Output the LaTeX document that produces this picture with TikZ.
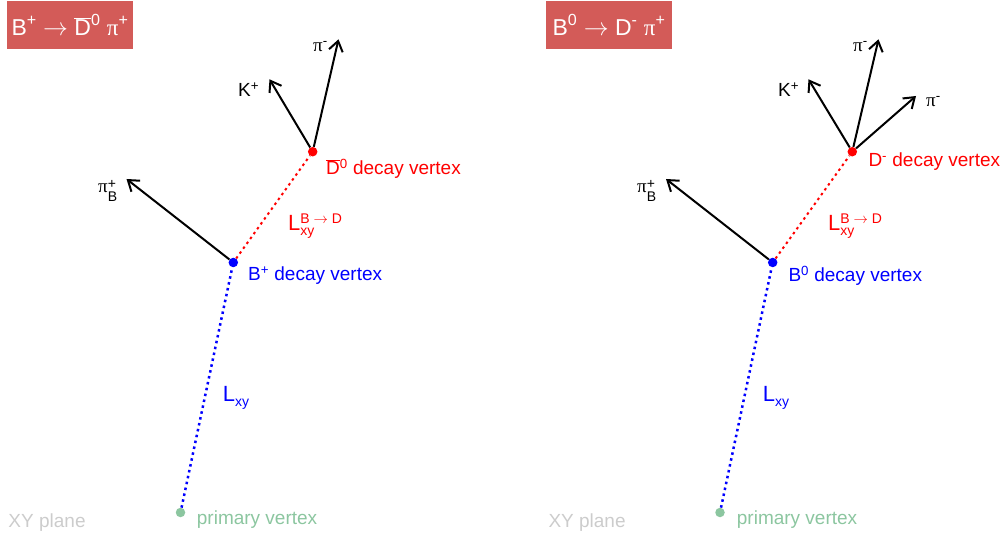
\documentclass[tikz,border=0pt]{standalone}
\usepackage{fontspec}
\setmainfont{Liberation Sans}
\newfontfamily\pifont{Liberation Serif}
\usetikzlibrary{arrows.meta}
\definecolor{titlered}{HTML}{D35B58}
\definecolor{pvgreen}{HTML}{8CC6A0}
\definecolor{planegray}{HTML}{CCCCCC}
\newcommand\pisym{{\pifont π}}
\newcommand\lbfont{\fontsize{19}{23}\selectfont}
\newcommand\Lfont{\fontsize{22}{26}\selectfont}
\newcommand\Lsmall{\fontsize{14}{16}\selectfont}
\newcommand\Dbar{$\overline{\hbox{D}}$}
\newcommand\piB{\pisym\rlap{\raisebox{4pt}{\Lsmall +}}\raisebox{-9pt}{\Lsmall B}}
\begin{document}
\begin{tikzpicture}[x=1pt,y=-1pt,
  vtx/.style={circle, inner sep=0pt, minimum size=9.5pt},
  trk/.style={draw=black, line width=2pt, -{Straight Barb[length=10pt,width=14pt]}},
  flight/.style={line width=2.5pt, dash pattern=on 2.5pt off 3.5pt},
  lbl/.style={anchor=base west, inner sep=0pt, font=\lbfont},
  titlebox/.style={fill=titlered, text=white, inner sep=0pt, minimum width=126pt, minimum height=48pt, font=\fontsize{23}{27}\selectfont}]
\useasboundingbox (0,0) rectangle (1005,537);

% ---------- left panel ----------
\node[titlebox] (t1) at (70,25) {B\textsuperscript{+} $\rightarrow$ \Dbar\textsuperscript{0} \pisym\textsuperscript{+}};
\node[vtx, fill=pvgreen] (pv1) at (180.5,512.5) {};
\node[vtx, fill=blue] (bv1) at (233.3,262.5) {};
\node[vtx, fill=red] (dv1) at (312.7,151.7) {};
\coordinate (pb1) at (126.5,179);
\coordinate (k1) at (269.5,79.3);
\coordinate (pm1) at (338.5,39.3);
\draw[flight, blue] (pv1) -- (bv1);
\draw[flight, red, line width=2pt] (bv1) -- (dv1);
\draw[trk] (bv1) -- (pb1);
\draw[trk] (dv1) -- (k1);
\draw[trk] (dv1) -- (pm1);
\node[lbl] (lpb1) at (98,193) {\piB};
\node[lbl] (lk1) at (238,97) {K\textsuperscript{+}};
\node[lbl] (lpm1) at (313,52) {\pisym\textsuperscript{-}};
\node[lbl, text=red] (ld1) at (326,175) {\Dbar\textsuperscript{0} decay vertex};
\node[lbl, text=blue] (lb1) at (248,281) {B\textsuperscript{+} decay vertex};
\node[lbl, text=red, font=\Lfont] (lbd1) at (288,231) {L\rlap{\Lsmall\raisebox{-0.35em}{xy}}\Lsmall\raisebox{0.55em}{B $\rightarrow$ D}};
\node[lbl, text=blue, font=\Lfont] (lxy1) at (222.7,401.5) {L\Lsmall\raisebox{-0.35em}{xy}};
\node[lbl, text=pvgreen] (lpv1) at (196.7,525) {primary vertex};
\node[lbl, text=planegray] (xy1) at (8.3,527.5) {XY plane};

% ---------- right panel ----------
\node[titlebox] (t2) at (609,25) {B\textsuperscript{0} $\rightarrow$ D\textsuperscript{-} \pisym\textsuperscript{+}};
\node[vtx, fill=pvgreen] (pv2) at (720,512.5) {};
\node[vtx, fill=blue] (bv2) at (772.7,262.5) {};
\node[vtx, fill=red] (dv2) at (852.3,151.7) {};
\coordinate (pb2) at (666,179);
\coordinate (k2) at (808.5,79.3);
\coordinate (pm2) at (878.5,39.3);
\coordinate (pr2) at (916,96);
\draw[flight, blue] (pv2) -- (bv2);
\draw[flight, red, line width=2pt] (bv2) -- (dv2);
\draw[trk] (bv2) -- (pb2);
\draw[trk] (dv2) -- (k2);
\draw[trk] (dv2) -- (pm2);
\draw[trk] (dv2) -- (pr2);
\node[lbl] (lpb2) at (637,193) {\piB};
\node[lbl] (lk2) at (778,97) {K\textsuperscript{+}};
\node[lbl] (lpm2) at (853,52) {\pisym\textsuperscript{-}};
\node[lbl] (lpr2) at (926,107) {\pisym\textsuperscript{-}};
\node[lbl, text=red] (ld2) at (868.3,167) {D\textsuperscript{-} decay vertex};
\node[lbl, text=blue] (lb2) at (788.3,281.5) {B\textsuperscript{0} decay vertex};
\node[lbl, text=red, font=\Lfont] (lbd2) at (828,231) {L\rlap{\Lsmall\raisebox{-0.35em}{xy}}\Lsmall\raisebox{0.55em}{B $\rightarrow$ D}};
\node[lbl, text=blue, font=\Lfont] (lxy2) at (762.7,401.5) {L\Lsmall\raisebox{-0.35em}{xy}};
\node[lbl, text=pvgreen] (lpv2) at (736.7,525) {primary vertex};
\node[lbl, text=planegray] (xy2) at (548.3,527.5) {XY plane};
\end{tikzpicture}
\end{document}
